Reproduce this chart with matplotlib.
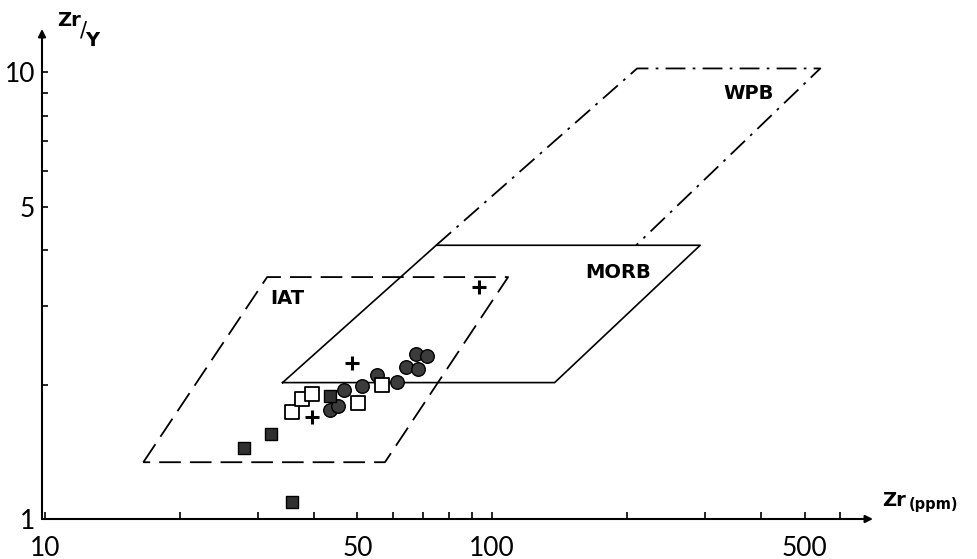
import matplotlib
matplotlib.use("Agg")
import matplotlib.pyplot as plt
from matplotlib.ticker import NullLocator, FixedLocator, FixedFormatter

# ---- data (Zr ppm, Zr/Y) ----
cross_zr = [48.6, 39.5, 93.5]
cross_ratio = [2.23, 1.69, 3.31]

open_sq_zr = [35.6, 37.5, 39.6, 50.1, 56.8]
open_sq_ratio = [1.74, 1.86, 1.90, 1.82, 1.99]

hatched_sq_zr = [43.4, 32.0, 27.9, 35.7]
hatched_sq_ratio = [1.89, 1.55, 1.44, 1.09]

circle_zr = [43.4, 45.3, 46.7, 51.1, 55.2, 61.2, 64.2, 67.6, 71.4, 68.4]
circle_ratio = [1.75, 1.79, 1.94, 1.98, 2.10, 2.03, 2.19, 2.34, 2.32, 2.17]

# field outlines
iat_zr = [16.6, 31.4, 108.6, 57.6, 16.6]
iat_ratio = [1.34, 3.48, 3.48, 1.34, 1.34]

morb_zr = [34.0, 75.0, 292.0, 138.0, 34.0]
morb_ratio = [2.02, 4.1, 4.1, 2.02, 2.02]

wpb_zr = [75.0, 211.0, 542.0, 210.0]
wpb_ratio = [4.1, 10.2, 10.2, 4.1]

field_labels = ["IAT", "MORB", "WPB"]
field_label_zr = [34.8, 191.0, 374.0]
field_label_ratio = [3.12, 3.57, 8.97]

x_ticks = [10, 20, 30, 40, 50, 60, 70, 80, 90, 100, 200, 300, 400, 500, 600]
x_tick_labels = ["10", "", "", "", "50", "", "", "", "", "100", "", "", "", "500", ""]
y_ticks = [1, 2, 3, 4, 5, 6, 7, 8, 9, 10]
y_tick_labels = ["1", "", "", "", "5", "", "", "", "", "10"]

# ---- figure ----
W, H = 977, 559
fig = plt.figure(figsize=(W / 100, H / 100), dpi=100)
left_px, right_px, bottom_px, top_px = 42, 873, 519, 29
ax = fig.add_axes([left_px / W, 1 - bottom_px / H,
                   (right_px - left_px) / W, (bottom_px - top_px) / H])
ax.set_xscale("log")
ax.set_yscale("log")
ax.set_xlim(9.85, 711)
ax.set_ylim(1.0, 12.5)

for s in ax.spines.values():
    s.set_visible(False)

# axes with arrows
ax.annotate("", xy=(1, 0), xytext=(0, 0), xycoords="axes fraction",
            arrowprops=dict(arrowstyle="-|>", lw=1.5, color="k",
                            mutation_scale=11, shrinkA=0, shrinkB=0))
ax.annotate("", xy=(0, 1), xytext=(0, 0), xycoords="axes fraction",
            arrowprops=dict(arrowstyle="-|>", lw=1.5, color="k",
                            mutation_scale=11, shrinkA=0, shrinkB=0))

num_font = ["Lato", "DejaVu Sans"]
ax.xaxis.set_major_locator(FixedLocator(x_ticks))
ax.xaxis.set_major_formatter(FixedFormatter(x_tick_labels))
ax.xaxis.set_minor_locator(NullLocator())
ax.yaxis.set_major_locator(FixedLocator(y_ticks))
ax.yaxis.set_major_formatter(FixedFormatter(y_tick_labels))
ax.yaxis.set_minor_locator(NullLocator())
ax.tick_params(axis="x", direction="in", length=5, width=1.2, pad=12,
               labelsize=19)
ax.tick_params(axis="y", direction="in", length=4, width=1.2, pad=5,
               labelsize=19)
for lab in ax.get_xticklabels() + ax.get_yticklabels():
    lab.set_family(num_font)
    lab.set_fontweight("normal")

# fields
ax.plot(iat_zr, iat_ratio, color="k", lw=1.3, dashes=(12, 5))
ax.plot(morb_zr, morb_ratio, color="k", lw=1.2)
ax.plot(wpb_zr, wpb_ratio, color="k", lw=1.3, dashes=(11, 4, 1.5, 4))

for t, zx, zy in zip(field_labels, field_label_zr, field_label_ratio):
    ax.text(zx, zy, t, ha="center", va="center", fontsize=14,
            fontweight="bold", family="DejaVu Sans")

# data points
ax.scatter(circle_zr, circle_ratio, s=95, marker="o", facecolor="#3c3c3c",
           edgecolor="k", linewidth=1.0, zorder=4)
ax.scatter(hatched_sq_zr, hatched_sq_ratio, s=75, marker="s",
           facecolor="#303030", edgecolor="k", linewidth=1.0, zorder=4)
ax.scatter(open_sq_zr, open_sq_ratio, s=90, marker="s", facecolor="white",
           edgecolor="k", linewidth=1.3, zorder=5)
ax.scatter(cross_zr, cross_ratio, s=110, marker="+", color="k",
           linewidth=2.2, zorder=5)

# axis titles
fig.text(57 / W, 1 - 20 / H, "Zr", fontsize=14, fontweight="bold",
         ha="left", va="center", family="DejaVu Sans")
fig.text(83 / W, 1 - 30 / H, "/", fontsize=15, ha="center", va="center",
         family="DejaVu Sans")
fig.text(92 / W, 1 - 40 / H, "Y", fontsize=14, fontweight="bold",
         ha="center", va="center", family="DejaVu Sans")

fig.text(882 / W, 1 - 501 / H, "Zr", fontsize=14, fontweight="bold",
         ha="left", va="center", family="DejaVu Sans")
fig.text(909 / W, 1 - 504 / H, "(ppm)", fontsize=10.5, fontweight="bold",
         ha="left", va="center", family="DejaVu Sans")

fig.savefig("out.png", dpi=100, facecolor="white")
